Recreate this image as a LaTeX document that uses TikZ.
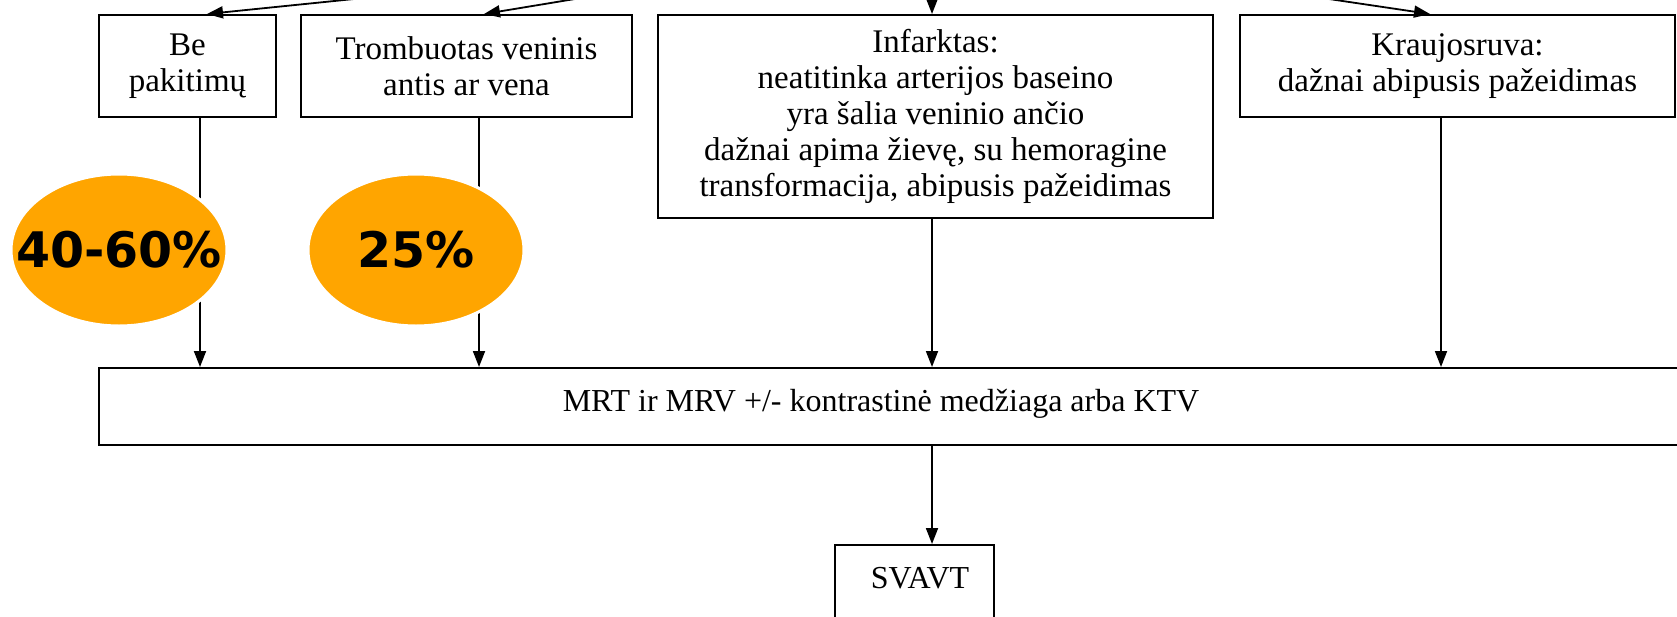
\documentclass[tikz,border=0pt]{standalone}
\usepackage{fontspec}
\newfontfamily\boxfont{Liberation Serif}
\newfontfamily\pctfont{DejaVu Sans}
\usetikzlibrary{arrows.meta,shapes.geometric}
\definecolor{pctorange}{HTML}{FFA500}
\tikzset{
 box/.style={draw, line width=2pt, inner sep=0pt, align=center, anchor=north west, font=\boxfont\fontsize{33}{36}\selectfont},
 lbl/.style={inner sep=0pt, align=center, font=\boxfont\fontsize{32}{36}\selectfont},
 arr/.style={line width=1.8pt, -{Triangle[length=16pt,width=12pt]}},
 ell/.style={ellipse, fill=pctorange, draw=white, line width=3pt, minimum width=216pt, minimum height=152pt, inner sep=0pt},
 pct/.style={font=\pctfont\bfseries\fontsize{49}{55}\selectfont, inner sep=0pt}
}
\begin{document}
\begin{tikzpicture}[x=1pt,y=-1pt]
\useasboundingbox (0,0) rectangle (1677,616);
\clip (0,0) rectangle (1677,616);
\coordinate (src) at (932,-60);
% top row boxes
\node[box, minimum width=177pt, minimum height=102pt] (be) at (98,14) {Be\\pakitimų};
\node[box, minimum width=331pt, minimum height=102pt] (tromb) at (300,14) {Trombuotas veninis\\antis ar vena};
\node[box, minimum width=555pt, minimum height=203pt] (inf) at (657,14) {Infarktas:\\neatitinka arterijos baseino\\yra šalia veninio ančio\\dažnai apima žievę, su hemoragine\\transformacija, abipusis pažeidimas};
\node[box, minimum width=435pt, minimum height=102pt] (kr) at (1239,14) {Kraujosruva:\\dažnai abipusis pažeidimas};
% MRT box
\node[box, minimum width=1620pt, minimum height=77pt] (mrt) at (98,367) {};
\node[lbl] (mrtt) at (881,404) {MRT ir MRV +/- kontrastinė medžiaga arba KTV};
% SVAVT box
\node[box, minimum width=159pt, minimum height=120pt] (svavt) at (834,544) {};
\node[lbl] (svavtt) at (920,578) {SVAVT};
% incoming arrows from above
\coordinate (xbe) at (207,0);
\coordinate (xtr) at (484,0);
\coordinate (xkr) at (1430,0);
\draw[arr] (src) -- (be.north -| xbe);
\draw[arr] (src) -- (tromb.north -| xtr);
\draw[arr] (src) -- (inf.north -| src);
\draw[arr] (src) -- (kr.north -| xkr);
% vertical arrows into MRT
\coordinate (vbe) at (200,0);
\coordinate (vtr) at (479,0);
\coordinate (vin) at (932,0);
\coordinate (vkr) at (1441,0);
\draw[arr] (be.south -| vbe) -- (mrt.north -| vbe);
\draw[arr] (tromb.south -| vtr) -- (mrt.north -| vtr);
\draw[arr] (inf.south -| vin) -- (mrt.north -| vin);
\draw[arr] (kr.south -| vkr) -- (mrt.north -| vkr);
\draw[arr] (mrt.south -| vin) -- (svavt.north -| vin);
% percentage ellipses
\node[ell] (e1) at (119,250) {};
\node[pct] (p1) at (e1) {40-60\%};
\node[ell] (e2) at (416,250) {};
\node[pct] (p2) at (e2) {25\%};
\end{tikzpicture}
\end{document}
